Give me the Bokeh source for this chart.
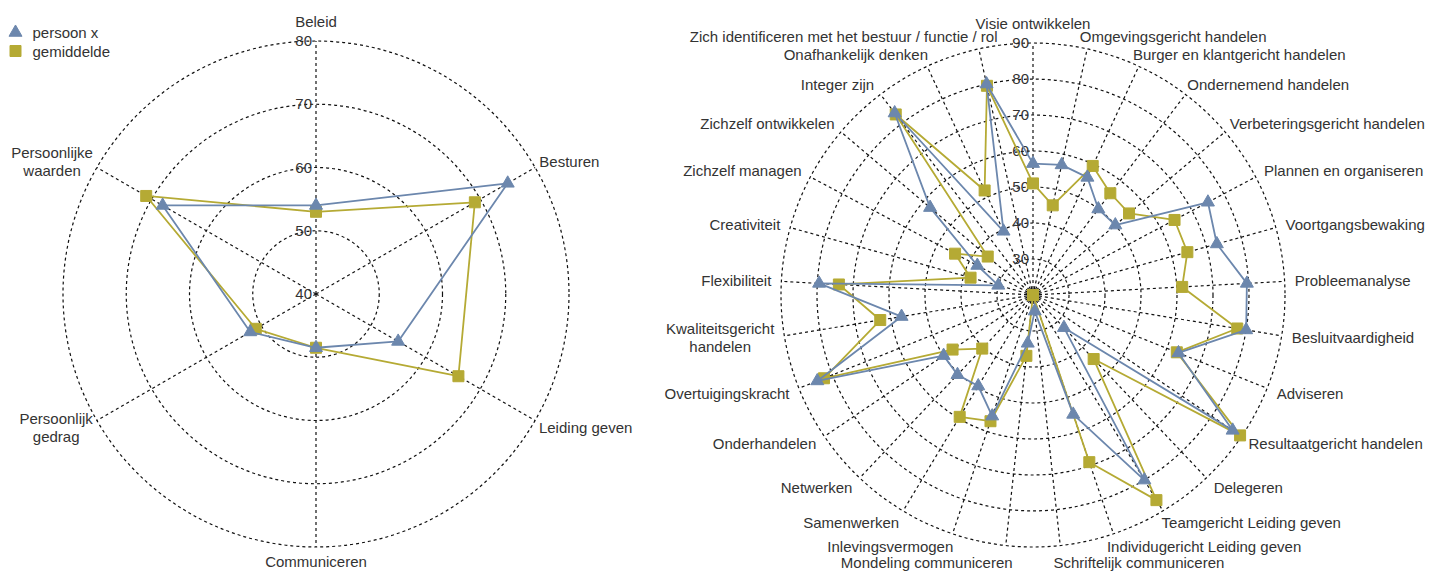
import math
from bokeh.plotting import figure
from bokeh.models import Range1d
from bokeh.core.properties import value
from bokeh.embed import file_html
from bokeh.resources import INLINE

# ---------------- data ----------------
series_names = ["persoon x", "gemiddelde"]

left_categories = ["Beleid", "Besturen", "Leiding geven", "Communiceren",
                   "Persoonlijk gedrag", "Persoonlijke waarden"]
left_persoon = [54, 75, 55, 48.5, 52, 68]
left_gemiddelde = [53, 69, 66, 48.5, 51, 71]
left_ticks = [40, 50, 60, 70, 80]

right_categories = [
    "Visie ontwikkelen", "Omgevingsgericht handelen", "Burger en klantgericht handelen",
    "Ondernemend handelen", "Verbeteringsgericht handelen", "Plannen en organiseren",
    "Voortgangsbewaking", "Probleemanalyse", "Besluitvaardigheid", "Adviseren",
    "Resultaatgericht handelen", "Delegeren", "Teamgericht Leiding geven",
    "Individugericht Leiding geven", "Schriftelijk communiceren", "Mondeling communiceren",
    "Inlevingsvermogen", "Samenwerken", "Netwerken", "Onderhandelen", "Overtuigingskracht",
    "Kwaliteitsgericht handelen", "Flexibiliteit", "Creativiteit", "Zichzelf managen",
    "Zichzelf ontwikkelen", "Integer zijn", "Onafhankelijk denken",
    "Zich identificeren met het bestuur / functie / rol"]
right_persoon = [56.5, 57, 56, 50, 50, 75, 73, 79.5, 80, 63.5, 87, 32.5, 80, 55, 24.5,
                 33.5, 55.5, 49.5, 50.5, 50, 84.5, 57, 79.5, 30, 37.5, 57.5, 83.5, 39.5, 80]
right_gemiddelde = [51, 45.5, 59.5, 55.5, 55, 64.5, 64.5, 61.5, 77.5, 63, 89.5, 44.5, 86.5,
                    69, 20, 37, 57, 59.5, 40.5, 47, 82.5, 63, 74, 38, 44.5, 36.5, 83, 52, 79.5]
right_ticks = [30, 40, 50, 60, 70, 80, 90]

# ---------------- style ----------------
BLUE = "#6C87AD"
OLIVE = "#B5AA34"
GRID = "#111111"
TEXT = "#333333"
FONT = "Liberation Sans"
FS = 15

W = 1430
H = 571
p = figure(width=W, height=H, output_backend="svg", toolbar_location=None,
           x_range=Range1d(0, W), y_range=Range1d(H, 0),
           x_axis_type=None, y_axis_type=None, min_border=0)
p.grid.visible = False
p.outline_line_color = None
p.background_fill_color = "white"

CW = {}
for ch in "ijl":
    CW[ch] = 0.222
for ch in "ft /I":
    CW[ch] = 0.278
CW["r"] = 0.333
for ch in "ckszvxyJ":
    CW[ch] = 0.5
CW["w"] = 0.722
CW["m"] = 0.833
CW["O"] = 0.778
for ch in "CDNRHU":
    CW[ch] = 0.722
for ch in "FTZ":
    CW[ch] = 0.611
CW["L"] = 0.556
CW["M"] = 0.833


def tw(s):
    return sum(CW.get(c, 0.667 if c.isupper() else 0.556) for c in s) * FS


def draw_panel(cats, persoon, gemiddelde, ticks, cx, cy, R, vmin, vmax, O, xmin):
    n = len(cats)
    thetas = [2 * math.pi * k / n for k in range(n)]

    def rad(v):
        return (v - vmin) / (vmax - vmin) * R

    # circles
    rs = [rad(v) for v in ticks if v > vmin]
    p.circle(x=[cx] * len(rs), y=[cy] * len(rs), radius=rs, fill_color=None,
             line_color=GRID, line_width=1.2, line_dash="3 3")
    # spokes
    xs = [[cx, cx + R * math.sin(t)] for t in thetas]
    ys = [[cy, cy - R * math.cos(t)] for t in thetas]
    p.multi_line(xs, ys, line_color=GRID, line_width=1.2, line_dash="3 3")

    # tick labels
    p.text(x=[cx - 4] * len(ticks), y=[cy - rad(v) for v in ticks], text=[str(v) for v in ticks],
           text_align="right", text_baseline="middle", text_font=value(FONT),
           text_font_size=f"{FS}px", text_color=TEXT)

    # category labels
    lx, ly, lt, la = [], [], [], []
    for name, t in zip(cats, thetas):
        s, c = math.sin(t), math.cos(t)
        ex, ey = cx + R * s, cy - R * c
        if abs(s) < 0.01:
            lx.append(ex); ly.append(ey - 20 if c > 0 else ey + 14)
            lt.append(name); la.append("center")
            continue
        f = 0.1 * abs(c) ** 3
        yc = ey - 13 * c + (4 if c < -0.98 else 0)
        w = tw(name)
        if s > 0:
            lx.append(ex + O - f * w); ly.append(yc); lt.append(name); la.append("left")
        else:
            right = ex - O + f * w
            if right - w < xmin and " " in name:
                words = name.split(" ")
                best = None
                for i in range(1, len(words)):
                    a, b = " ".join(words[:i]), " ".join(words[i:])
                    m = max(tw(a), tw(b))
                    if best is None or m < best[0]:
                        best = (m, [a, b])
                wm, lines = best
                right = ex - O + f * wm
                bc = right - wm / 2
                for i, ln in enumerate(lines):
                    lx.append(bc); ly.append(yc + (i - (len(lines) - 1) / 2) * 18)
                    lt.append(ln); la.append("center")
            else:
                lx.append(right); ly.append(yc); lt.append(name); la.append("right")
    for al in ("left", "right", "center"):
        idx = [i for i in range(len(lt)) if la[i] == al]
        p.text(x=[lx[i] for i in idx], y=[ly[i] for i in idx], text=[lt[i] for i in idx],
               text_align=al, text_baseline="middle", text_font=value(FONT),
               text_font_size=f"{FS}px", text_color=TEXT)

    # series (gemiddelde below, persoon x on top)
    for vals, col, marker, size in ((gemiddelde, OLIVE, "square", 11),
                                    (persoon, BLUE, "triangle", 13)):
        px = [cx + rad(v) * math.sin(t) for v, t in zip(vals, thetas)]
        py = [cy - rad(v) * math.cos(t) for v, t in zip(vals, thetas)]
        p.line(px + [px[0]], py + [py[0]], line_color=col, line_width=1.8)
        p.scatter(px, py, marker=marker, size=size, fill_color=col, line_color=col)


draw_panel(left_categories, left_persoon, left_gemiddelde, left_ticks,
           315.5, 293.5, 253, 40, 80, 5, 8)
draw_panel(right_categories, right_persoon, right_gemiddelde, right_ticks,
           1032.5, 294.5, 252, 20, 90, 10, 658)

# legend (drawn as marks + text)
legend_markers = ["triangle", "square"]
legend_colors = [BLUE, OLIVE]
legend_sizes = [13, 11]
ly0, ldy = 32, 18.5
for i, name in enumerate(series_names):
    p.scatter([15], [ly0 + i * ldy], marker=legend_markers[i], size=legend_sizes[i],
              fill_color=legend_colors[i], line_color=legend_colors[i])
p.text(x=[32] * len(series_names), y=[ly0 + i * ldy for i in range(len(series_names))],
       text=series_names, text_align="left", text_baseline="middle", text_font=value(FONT),
       text_font_size=f"{FS}px", text_color=TEXT)

open("out.html", "w").write(file_html(p, INLINE))
